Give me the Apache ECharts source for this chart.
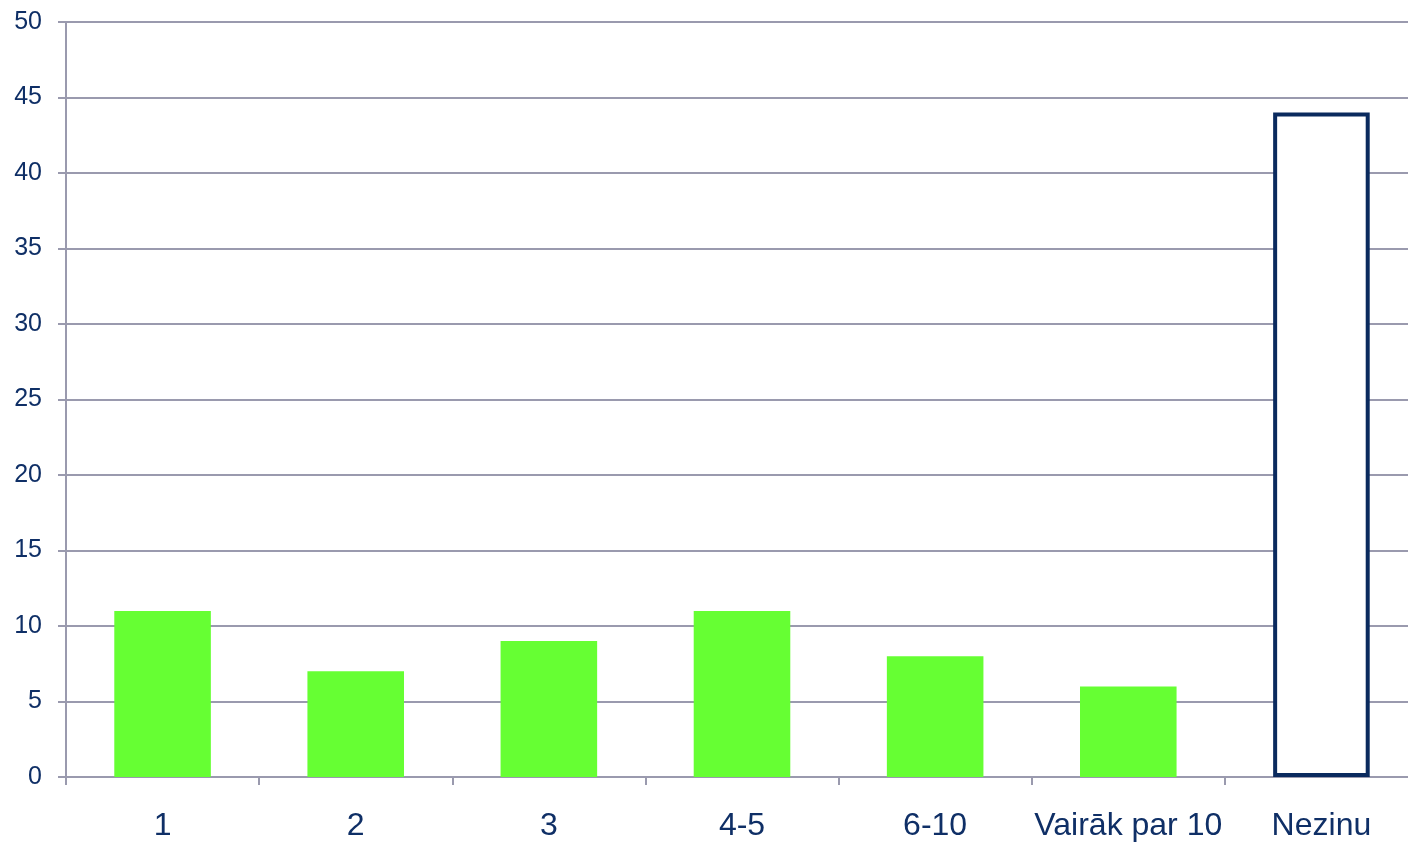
<!DOCTYPE html>
<html>
<head>
<meta charset="utf-8">
<script src="https://cdn.jsdelivr.net/npm/echarts@6/dist/echarts.min.js"></script>
<style>
  html, body { margin: 0; padding: 0; background: #fff; overflow: hidden; }
  #chart { width: 1418px; height: 842px; }
</style>
</head>
<body>
<div id="chart"></div>
<script>
var categories = ["1", "2", "3", "4-5", "6-10", "Vairāk par 10", "Nezinu"];
var values = [11, 7, 9, 11, 8, 6, 44];
// pēdējais stabiņš ir tukšs ar tumšu rāmi
var knownCount = 6;

var chart = echarts.init(document.getElementById("chart"));
var labelColor = "#0F2F66";
var gridColor = "#9A9AAE";

var seriesData = values.map(function (v, i) {
  if (i < knownCount) {
    return { value: v, itemStyle: { color: "#66FF33" } };
  }
  return {
    value: v,
    itemStyle: { color: "#ffffff", borderColor: "#0A2A5E", borderWidth: 4 }
  };
});

var option = {
  animation: false,
  grid: { left: 66, right: 0, top: 22, bottom: 64, containLabel: false },
  xAxis: {
    type: "category",
    data: categories,
    axisLine: { lineStyle: { color: gridColor, width: 2 } },
    axisTick: { show: true, length: 8, lineStyle: { color: gridColor, width: 2 } },
    axisLabel: {
      color: labelColor,
      fontFamily: "Liberation Sans",
      fontSize: 32,
      margin: 33,
      interval: 0
    }
  },
  yAxis: {
    type: "value",
    min: 0,
    max: 50,
    interval: 5,
    axisLine: { show: true, lineStyle: { color: gridColor, width: 2 } },
    axisTick: { show: true, length: 8, lineStyle: { color: gridColor, width: 2 } },
    axisLabel: {
      color: labelColor,
      fontFamily: "Liberation Sans",
      fontSize: 25,
      margin: 24
    },
    splitLine: { show: true, lineStyle: { color: gridColor, width: 2 } }
  },
  series: [
    {
      type: "bar",
      data: seriesData,
      barWidth: "50%"
    }
  ]
};
chart.setOption(option);
window.addEventListener("resize", function () {
  chart.resize();
});
</script>
</body>
</html>
